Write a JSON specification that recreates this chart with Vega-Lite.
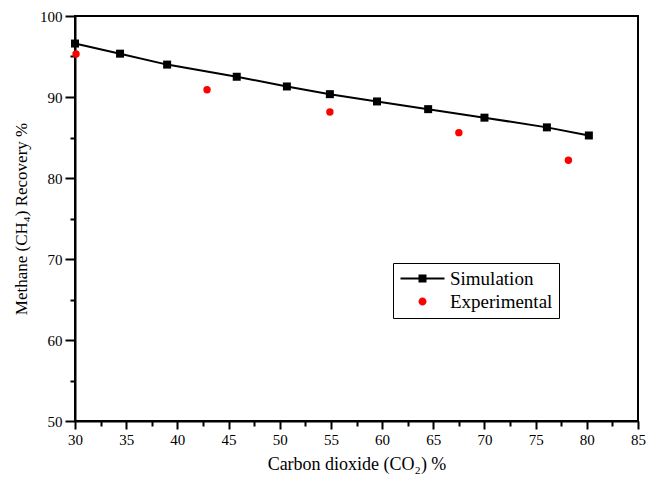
{
  "$schema": "https://vega.github.io/schema/vega-lite/v6.json",
  "width": 563,
  "height": 405,
  "autosize": {"type": "none"},
  "padding": {"left": 75, "top": 16, "right": 21, "bottom": 61},
  "background": "white",
  "config": {
    "font": "Liberation Serif",
    "view": {"stroke": "black", "strokeWidth": 2},
    "axis": {
      "grid": false,
      "domainColor": "black",
      "domainWidth": 2,
      "tickColor": "black",
      "tickWidth": 2,
      "labelFont": "Liberation Serif",
      "labelFontSize": 15,
      "labelColor": "black",
      "titleFont": "Liberation Serif",
      "titleFontWeight": "normal",
      "titleColor": "black"
    }
  },
  "datasets": {
    "sim": [
      {"co2": 30.0, "recovery": 96.6},
      {"co2": 34.4, "recovery": 95.35},
      {"co2": 39.0, "recovery": 94.0},
      {"co2": 45.8, "recovery": 92.5},
      {"co2": 50.7, "recovery": 91.3},
      {"co2": 54.9, "recovery": 90.35},
      {"co2": 59.5, "recovery": 89.45},
      {"co2": 64.5, "recovery": 88.5},
      {"co2": 70.0, "recovery": 87.45},
      {"co2": 76.1, "recovery": 86.25},
      {"co2": 80.2, "recovery": 85.25}
    ],
    "exp": [
      {"co2": 30.1, "recovery": 95.3},
      {"co2": 42.9, "recovery": 90.9},
      {"co2": 54.9, "recovery": 88.15},
      {"co2": 67.5, "recovery": 85.6},
      {"co2": 78.2, "recovery": 82.2}
    ],
    "series": [
      {"series": "Simulation"},
      {"series": "Experimental"}
    ]
  },
  "resolve": {"axis": {"x": "independent", "y": "independent"}},
  "layer": [
    {
      "data": {"name": "sim"},
      "mark": {"type": "line", "color": "black", "strokeWidth": 2},
      "encoding": {
        "x": {
          "field": "co2", "type": "quantitative",
          "scale": {"domain": [30, 85], "nice": false, "zero": false},
          "axis": {"orient": "bottom", "values": [30, 35, 40, 45, 50, 55, 60, 65, 70, 75, 80, 85], "tickSize": 8, "labelPadding": 3, "title": "Carbon dioxide (CO₂) %", "titleFontSize": 18, "titlePadding": 8, "labelFlush": false}
        },
        "y": {
          "field": "recovery", "type": "quantitative",
          "scale": {"domain": [50, 100], "nice": false, "zero": false},
          "axis": {"orient": "left", "values": [50, 60, 70, 80, 90, 100], "tickSize": 10, "labelPadding": 3, "title": "Methane (CH₄) Recovery %", "titleFontSize": 17, "titlePadding": 9, "labelFlush": false}
        }
      }
    },
    {
      "data": {"name": "sim"},
      "mark": {"type": "point", "shape": "square", "filled": true, "size": 64, "opacity": 1, "color": "black"},
      "encoding": {
        "x": {"field": "co2", "type": "quantitative", "axis": null},
        "y": {"field": "recovery", "type": "quantitative", "axis": null}
      }
    },
    {
      "data": {"name": "exp"},
      "mark": {"type": "point", "shape": "circle", "filled": true, "size": 55, "opacity": 1, "color": "#ff0000"},
      "encoding": {
        "x": {
          "field": "co2", "type": "quantitative",
          "axis": {"orient": "bottom", "values": [32.5, 37.5, 42.5, 47.5, 52.5, 57.5, 62.5, 67.5, 72.5, 77.5, 82.5], "tickSize": 5, "labels": false, "domain": false, "title": null}
        },
        "y": {
          "field": "recovery", "type": "quantitative",
          "axis": {"orient": "left", "values": [55, 65, 75, 85, 95], "tickSize": 5, "labels": false, "domain": false, "title": null}
        }
      }
    },
    {
      "data": {"name": "series"},
      "transform": [{"filter": "datum.series === 'none'"}],
      "mark": {"type": "point", "filled": true, "opacity": 1, "size": 100, "strokeWidth": 0},
      "encoding": {
        "color": {
          "field": "series",
          "type": "nominal",
          "scale": {"domain": ["Simulation", "Experimental"], "range": ["black", "#ff0000"]},
          "legend": {
            "title": null,
            "orient": "none",
            "legendX": 318,
            "legendY": 247,
            "padding": 6,
            "strokeColor": "black",
            "fillColor": "white",
            "cornerRadius": 0,
            "symbolSize": 100,
            "symbolStrokeWidth": 0,
            "symbolOffset": 14,
            "symbolOpacity": 1,
            "labelFont": "Liberation Serif",
            "labelFontSize": 19,
            "labelColor": "black",
            "labelOffset": 18,
            "rowPadding": 3
          }
        },
        "shape": {
          "field": "series",
          "type": "nominal",
          "scale": {"domain": ["Simulation", "Experimental"], "range": ["M-4.4,-0.2H-0.8V-0.8H0.8V-0.2H4.4V0.2H0.8V0.8H-0.8V0.2H-4.4Z", "M-0.8,0A0.8,0.8,0,1,0,0.8,0A0.8,0.8,0,1,0,-0.8,0Z"]},
          "legend": {
            "title": null,
            "orient": "none",
            "legendX": 318,
            "legendY": 247,
            "padding": 6,
            "strokeColor": "black",
            "fillColor": "white",
            "cornerRadius": 0,
            "symbolSize": 100,
            "symbolStrokeWidth": 0,
            "symbolOffset": 14,
            "symbolOpacity": 1,
            "labelFont": "Liberation Serif",
            "labelFontSize": 19,
            "labelColor": "black",
            "labelOffset": 18,
            "rowPadding": 3
          }
        }
      }
    }
  ]
}
